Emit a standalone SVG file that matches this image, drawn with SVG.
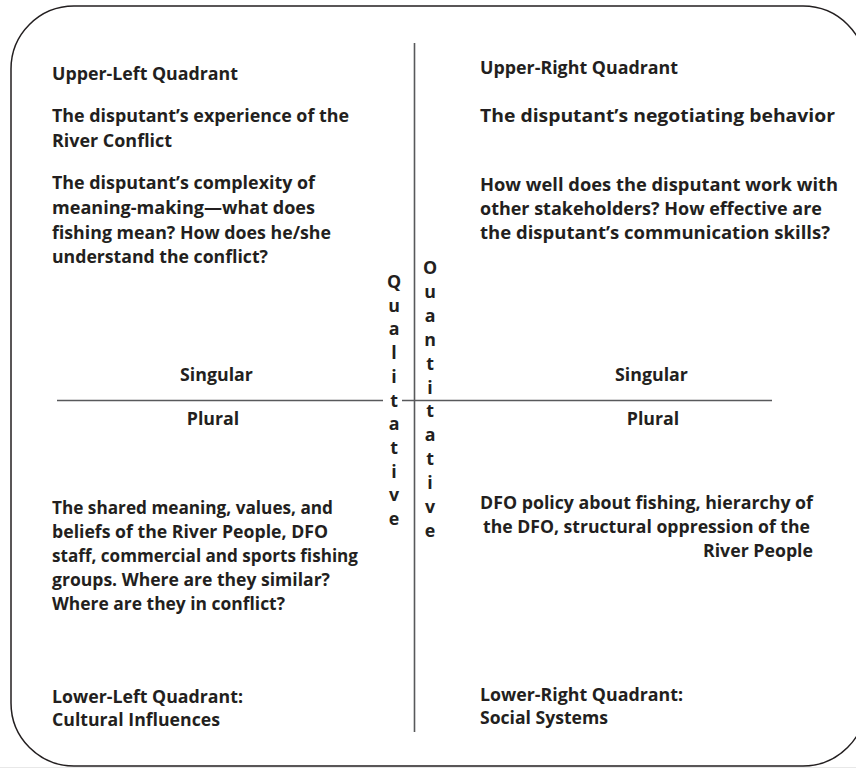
<svg xmlns="http://www.w3.org/2000/svg" width="856" height="768" viewBox="0 0 856 768">
  <style>
    .t { font-family: "Open Sans", "Liberation Sans", sans-serif; font-weight: bold; font-size: 17.8px; fill: #231f20; }
    .c { text-anchor: middle; }
    .axis { stroke: #58595b; stroke-width: 1.6; fill: none; }
    .frame { stroke: #231f20; stroke-width: 1.5; fill: #ffffff; }
  </style>
  <rect x="0" y="0" width="856" height="768" fill="#ffffff"/>
  <rect x="0" y="767" width="856" height="1" fill="#e8e8e8"/>
  <rect class="frame" x="11" y="6" width="855" height="760" rx="63" ry="63"/>

  <g id="connectors">
    <line class="axis" x1="414.5" y1="43" x2="414.5" y2="732"/>
    <line class="axis" x1="57" y1="400.5" x2="383" y2="400.5"/>
    <line class="axis" x1="402" y1="400.5" x2="772" y2="400.5"/>
  </g>

  <g id="upper-left">
    <text class="t" x="52" y="80" textLength="186" lengthAdjust="spacingAndGlyphs">Upper-Left Quadrant</text>
    <text class="t" x="52" y="122" textLength="297" lengthAdjust="spacingAndGlyphs">The disputant’s experience of the</text>
    <text class="t" x="52" y="147" textLength="120" lengthAdjust="spacingAndGlyphs">River Conflict</text>
    <text class="t" x="52" y="189" textLength="263" lengthAdjust="spacingAndGlyphs">The disputant’s complexity of</text>
    <text class="t" x="52" y="214" textLength="263" lengthAdjust="spacingAndGlyphs">meaning-making—what does</text>
    <text class="t" x="52" y="238.5" textLength="279" lengthAdjust="spacingAndGlyphs">fishing mean? How does he/she</text>
    <text class="t" x="52" y="263" textLength="216" lengthAdjust="spacingAndGlyphs">understand the conflict?</text>
  </g>

  <g id="upper-right">
    <text class="t" x="480" y="74" textLength="198" lengthAdjust="spacingAndGlyphs">Upper-Right Quadrant</text>
    <text class="t" x="480" y="122" textLength="355" lengthAdjust="spacingAndGlyphs">The disputant’s negotiating behavior</text>
    <text class="t" x="480" y="190.5" textLength="358" lengthAdjust="spacingAndGlyphs">How well does the disputant work with</text>
    <text class="t" x="480" y="214.5" textLength="342" lengthAdjust="spacingAndGlyphs">other stakeholders? How effective are</text>
    <text class="t" x="480" y="238.5" textLength="350" lengthAdjust="spacingAndGlyphs">the disputant’s communication skills?</text>
  </g>

  <g id="lower-left">
    <text class="t" x="52" y="514" textLength="281" lengthAdjust="spacingAndGlyphs">The shared meaning, values, and</text>
    <text class="t" x="52" y="538" textLength="276" lengthAdjust="spacingAndGlyphs">beliefs of the River People, DFO</text>
    <text class="t" x="52" y="562" textLength="306" lengthAdjust="spacingAndGlyphs">staff, commercial and sports fishing</text>
    <text class="t" x="52" y="586" textLength="278" lengthAdjust="spacingAndGlyphs">groups. Where are they similar?</text>
    <text class="t" x="52" y="610" textLength="233" lengthAdjust="spacingAndGlyphs">Where are they in conflict?</text>
    <text class="t" x="52" y="703" textLength="191" lengthAdjust="spacingAndGlyphs">Lower-Left Quadrant:</text>
    <text class="t" x="52" y="726" textLength="168" lengthAdjust="spacingAndGlyphs">Cultural Influences</text>
  </g>

  <g id="lower-right">
    <text class="t" x="480" y="509" textLength="333" lengthAdjust="spacingAndGlyphs">DFO policy about fishing, hierarchy of</text>
    <text class="t" x="483" y="533" textLength="327" lengthAdjust="spacingAndGlyphs">the DFO, structural oppression of the</text>
    <text class="t" x="703" y="557" textLength="110" lengthAdjust="spacingAndGlyphs">River People</text>
    <text class="t" x="480" y="701" textLength="203" lengthAdjust="spacingAndGlyphs">Lower-Right Quadrant:</text>
    <text class="t" x="480" y="724" textLength="128" lengthAdjust="spacingAndGlyphs">Social Systems</text>
  </g>

  <g id="singular-plural-left">
    <text class="t c" x="216.5" y="381">Singular</text>
    <text class="t c" x="213" y="425">Plural</text>
  </g>

  <g id="singular-plural-right">
    <text class="t c" x="651.5" y="381">Singular</text>
    <text class="t c" x="653" y="425">Plural</text>
  </g>

  <g id="qualitative">
    <text class="t c" x="394" y="288">Q</text>
    <text class="t c" x="394" y="311.7">u</text>
    <text class="t c" x="394" y="335.4">a</text>
    <text class="t c" x="394" y="359.1">l</text>
    <text class="t c" x="394" y="382.8">i</text>
    <text class="t c" x="394" y="406.5">t</text>
    <text class="t c" x="394" y="430.2">a</text>
    <text class="t c" x="394" y="453.9">t</text>
    <text class="t c" x="394" y="477.6">i</text>
    <text class="t c" x="394" y="501.3">v</text>
    <text class="t c" x="394" y="525">e</text>
  </g>

  <g id="quantitative">
    <text class="t c" x="430" y="274">O</text>
    <text class="t c" x="430" y="297.9">u</text>
    <text class="t c" x="430" y="321.8">a</text>
    <text class="t c" x="430" y="345.7">n</text>
    <text class="t c" x="430" y="369.6">t</text>
    <text class="t c" x="430" y="393.5">i</text>
    <text class="t c" x="430" y="417.4">t</text>
    <text class="t c" x="430" y="441.3">a</text>
    <text class="t c" x="430" y="465.2">t</text>
    <text class="t c" x="430" y="489.1">i</text>
    <text class="t c" x="430" y="513">v</text>
    <text class="t c" x="430" y="537">e</text>
  </g>
</svg>
